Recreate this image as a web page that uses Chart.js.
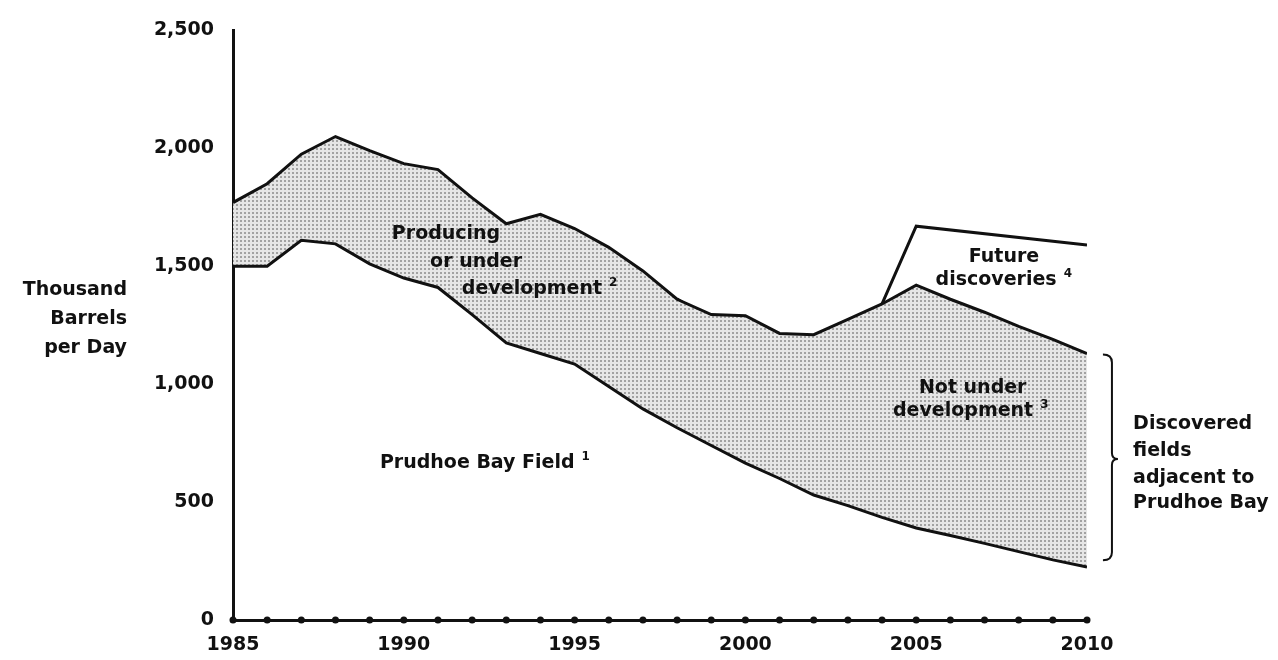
<!DOCTYPE html>
<html>
<head>
<meta charset="utf-8">
<script src="https://cdn.jsdelivr.net/npm/chart.js@4.4.1/dist/chart.umd.min.js"></script>
<style>
  body { margin: 0; background: #fff; }
  #wrap { width: 1278px; height: 660px; }
</style>
</head>
<body>
<div id="wrap"><canvas id="oilChart"></canvas></div>
<script>
// thousand barrels per day
const years = [1985, 1986, 1987, 1988, 1989, 1990, 1991, 1992, 1993, 1994, 1995, 1996, 1997,
               1998, 1999, 2000, 2001, 2002, 2003, 2004, 2005, 2006, 2007, 2008, 2009, 2010];
const prudhoeBay = [1500, 1500, 1610, 1595, 1510, 1450, 1410, 1295, 1175, 1130, 1085, 990, 895,
                    815, 740, 665, 600, 530, 485, 435, 390, 358, 325, 290, 255, 225];
const adjacentFields = [1770, 1850, 1975, 2050, 1990, 1935, 1910, 1790, 1680, 1720, 1660, 1580, 1480,
                        1360, 1295, 1290, 1215, 1210, 1275, 1340, 1420, 1360, 1305, 1245, 1190, 1130];
// dashed line: producing / under development vs. not under development
const underDevelopment = [null, null, null, null, null, null, null, null, null, null, null, null, null,
                          1360, null, null, null, null, null, null, 690, null, null, null, null, 420];
const futureDiscoveries = [null, null, null, null, null, null, null, null, null, null, null, null, null,
                           null, null, null, null, null, null, 1340, 1670, null, null, null, null, 1590];
const yTicks = [0, 500, 1000, 1500, 2000, 2500];
const xTicks = [1985, 1990, 1995, 2000, 2005, 2010];

const FONT = '"DejaVu Sans", sans-serif';
const INK = '#111';

const notes = [
    { text: 'Producing', x: 1989.65, y: 1637 },
    { text: 'or under', x: 1990.77, y: 1519 },
    { text: 'development', x: 1991.7, y: 1405, sup: '2' },
    { text: 'Prudhoe Bay Field', x: 1989.3, y: 667, sup: '1' },
    { text: 'Future', x: 2007.57, y: 1540, align: 'center' },
    { text: 'discoveries', x: 2007.34, y: 1443, align: 'center', sup: '4' },
    { text: 'Not under', x: 2005.08, y: 983 },
    { text: 'development', x: 2004.32, y: 886, sup: '3' },
    { text: 'Discovered', x: 2011.35, y: 831 },
    { text: 'fields', x: 2011.35, y: 717 },
    { text: 'adjacent to', x: 2011.35, y: 603 },
    { text: 'Prudhoe Bay', x: 2011.35, y: 494 }
];

// dotted screen like the print
function stipple() {
    const c = document.createElement('canvas');
    c.width = 4; c.height = 4;
    const g = c.getContext('2d');
    g.fillStyle = '#e6e6e6';
    g.fillRect(0, 0, 4, 4);
    g.fillStyle = '#a2a2a2';
    g.fillRect(0, 0, 2, 2);
    return g.createPattern(c, 'repeat');
}

const pts = arr => years.map((yr, i) => ({ x: yr, y: arr[i] }));

const extras = {
    id: 'extras',
    afterDraw(chart) {
        const { ctx, chartArea, scales: { x, y } } = chart;
        ctx.save();
        ctx.fillStyle = INK;
        ctx.strokeStyle = INK;

        // year dots on the x axis
        years.forEach(yr => {
            ctx.beginPath();
            ctx.arc(x.getPixelForValue(yr), chartArea.bottom, 3.5, 0, Math.PI * 2);
            ctx.fill();
        });

        // y axis title
        ctx.font = 'bold 19px ' + FONT;
        ctx.textAlign = 'right';
        ctx.textBaseline = 'middle';
        ['Thousand', 'Barrels', 'per Day'].forEach((t, i) => {
            ctx.fillText(t, chartArea.left - 106, 290 + i * 29);
        });

        // labels inside the chart
        notes.forEach(n => {
            const px = x.getPixelForValue(n.x);
            const py = y.getPixelForValue(n.y);
            ctx.font = 'bold 19px ' + FONT;
            ctx.textAlign = n.align || 'left';
            ctx.fillText(n.text, px, py);
            if (n.sup) {
                const w = ctx.measureText(n.text).width;
                const end = n.align === 'center' ? px + w / 2 : px + w;
                ctx.font = 'bold 12px ' + FONT;
                ctx.textAlign = 'left';
                ctx.fillText(n.sup, end + 7, py - 6);
            }
        });

        // bracket for the discovered fields
        const bx = x.getPixelForValue(2010.73);
        const top = y.getPixelForValue(1126);
        const bot = y.getPixelForValue(253);
        const mid = y.getPixelForValue(683);
        ctx.lineWidth = 2;
        ctx.beginPath();
        ctx.moveTo(bx - 9, top);
        ctx.quadraticCurveTo(bx, top, bx, top + 8);
        ctx.lineTo(bx, mid - 6);
        ctx.quadraticCurveTo(bx, mid, bx + 6, mid);
        ctx.quadraticCurveTo(bx, mid, bx, mid + 6);
        ctx.lineTo(bx, bot - 8);
        ctx.quadraticCurveTo(bx, bot, bx - 9, bot);
        ctx.stroke();
        ctx.restore();
    }
};

const ctx = document.getElementById('oilChart').getContext('2d');
new Chart(ctx, {
    type: 'line',
    data: {
        datasets: [
            {
                label: 'Prudhoe Bay Field',
                data: pts(prudhoeBay),
                borderColor: INK,
                borderWidth: 3,
                pointRadius: 0,
                fill: false
            },
            {
                label: 'Discovered fields adjacent to Prudhoe Bay',
                data: pts(adjacentFields),
                borderColor: INK,
                borderWidth: 3,
                pointRadius: 0,
                backgroundColor: stipple(),
                fill: '-1'
            },
            {
                label: 'Producing or under development',
                data: pts(underDevelopment),
                borderColor: INK,
                borderWidth: 3.5,
                borderDash: [11, 8],
                pointRadius: 0,
                spanGaps: true,
                fill: false
            },
            {
                label: 'Future discoveries',
                data: pts(futureDiscoveries),
                borderColor: INK,
                borderWidth: 3,
                pointRadius: 0,
                spanGaps: true,
                fill: false
            }
        ]
    },
    options: {
        responsive: true,
        maintainAspectRatio: false,
        animation: false,
        devicePixelRatio: 1,
        layout: { padding: { top: 27, right: 191, left: 0, bottom: 0 } },
        plugins: {
            legend: { display: false },
            tooltip: { enabled: false }
        },
        scales: {
            x: {
                type: 'linear',
                min: xTicks[0],
                max: xTicks[xTicks.length - 1],
                grid: { display: false, drawTicks: false },
                border: { display: true, color: INK, width: 3 },
                ticks: {
                    stepSize: 5,
                    padding: 14,
                    color: INK,
                    font: { family: FONT, size: 19, weight: 'bold' },
                    callback: v => xTicks.includes(v) ? String(v) : ''
                },
                afterFit: s => { s.height = 40; }
            },
            y: {
                min: yTicks[0],
                max: yTicks[yTicks.length - 1],
                grid: { display: false, drawTicks: false },
                border: { display: true, color: INK, width: 3 },
                ticks: {
                    stepSize: 500,
                    padding: 19,
                    color: INK,
                    font: { family: FONT, size: 19, weight: 'bold' },
                    callback: v => yTicks.includes(v) ? v.toLocaleString('en-US') : ''
                },
                afterFit: s => { s.width = 233; }
            }
        }
    },
    plugins: [extras]
});
</script>
</body>
</html>
